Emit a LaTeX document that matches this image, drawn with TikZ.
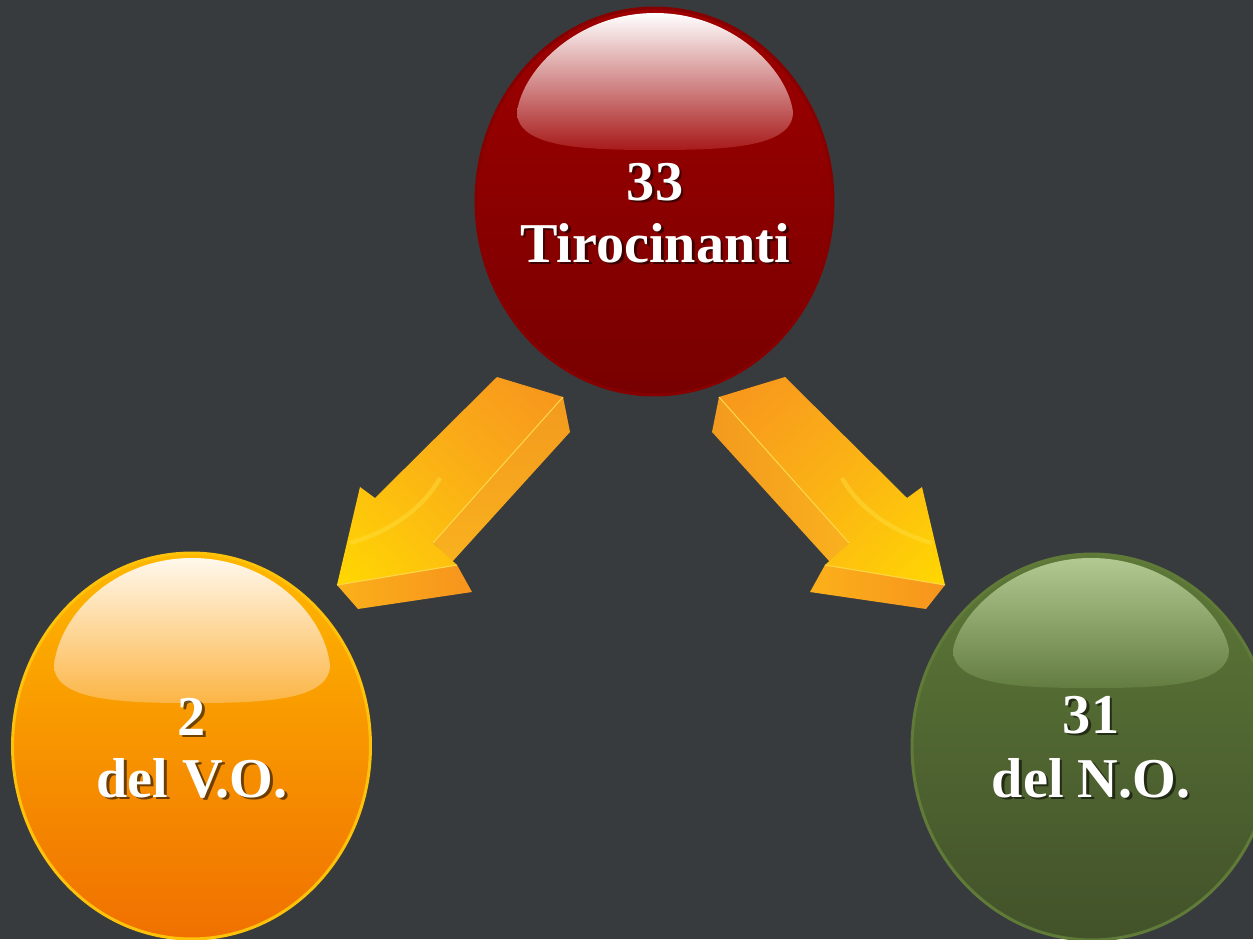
\documentclass[tikz,border=0pt]{standalone}
\usepackage{fontspec}
\setmainfont{Liberation Serif}
\usetikzlibrary{shapes.geometric,shadings}
\definecolor{bg}{HTML}{383B3D}
\definecolor{redtop}{HTML}{9E0000}
\definecolor{redbot}{HTML}{780000}
\definecolor{redrim}{HTML}{860000}
\definecolor{redhl}{HTML}{A81A1A}
\definecolor{ortop}{HTML}{FFB800}
\definecolor{orbot}{HTML}{F07000}
\definecolor{orrim}{HTML}{FFC20A}
\definecolor{orhl}{HTML}{FCB545}
\definecolor{orhltop}{HTML}{FFF8EC}
\definecolor{grtop}{HTML}{5D7838}
\definecolor{grbot}{HTML}{42522A}
\definecolor{grrim}{HTML}{5F7B37}
\definecolor{grhl}{HTML}{637C40}
\definecolor{grhltop}{HTML}{B2CA92}
\definecolor{arrY}{HTML}{FFD800}
\definecolor{arrM}{HTML}{FBB01A}
\definecolor{arrO}{HTML}{F7941D}
\definecolor{arrS}{HTML}{F39A1E}
\definecolor{arrSL}{HTML}{F9B11E}
\definecolor{arrEdge}{HTML}{FFD84A}
\definecolor{arrGlow}{HTML}{FFE040}
\newcommand\glosspath[4]{% cx, half width, top, bottom
  (#1-#2,#4-38) .. controls (#1-#2+6,#3+55) and (#1-0.55*#2,#3) .. (#1,#3)
  .. controls (#1+0.55*#2,#3) and (#1+#2-6,#3+55) .. (#1+#2,#4-38)
  .. controls (#1+#2,#4-2) and (#1+0.5*#2,#4) .. (#1,#4)
  .. controls (#1-0.5*#2,#4) and (#1-#2,#4-2) .. cycle}
\newcommand\lbltext[4]{%
  \node[shd, xshift=1.6pt, yshift=-1.6pt] (#1s) at (#2,#3) {#4};
  \node[lbl] (#1) at (#2,#3) {#4};}
\begin{document}
\begin{tikzpicture}[x=0.02cm,y=-0.02cm,
  ball/.style={shape=ellipse, inner sep=0pt, line width=0.06cm},
  lbl/.style={text=white, font=\fontsize{32}{36}\selectfont\bfseries, anchor=base, inner sep=0pt},
  shd/.style={text=black, opacity=0.55, font=\fontsize{32}{36}\selectfont\bfseries, anchor=base, inner sep=0pt},
  edge/.style={draw=arrEdge, line width=0.6pt}]
\useasboundingbox (0,0) rectangle (1253,939);
\clip (0,0) rectangle (1253,939);
\fill[bg] (0,0) rectangle (1253,939);

% balls
\node[ball, minimum width=7.14cm, minimum height=7.74cm, draw=redrim,
  top color=redtop, bottom color=redbot] (red) at (654.5,201.5) {};
\shade[top color=white, bottom color=redhl] \glosspath{655}{138}{13}{150};

\node[ball, minimum width=7.16cm, minimum height=7.72cm, draw=orrim,
  top color=ortop, bottom color=orbot] (orange) at (191.5,746) {};
\shade[top color=orhltop, bottom color=orhl] \glosspath{192}{138}{558}{703};

\node[ball, minimum width=7.2cm, minimum height=7.72cm, draw=grrim,
  top color=grtop, bottom color=grbot] (green) at (1092,747) {};
\shade[top color=grhltop, bottom color=grhl] \glosspath{1091}{138}{558}{688};

% left arrow
\coordinate (LT1) at (497,377);
\coordinate (LT2) at (563,397);
\coordinate (LT3) at (570,432);
\coordinate (LR) at (433,543);
\coordinate (LS) at (452,562);
\coordinate (LB1) at (457,565);
\coordinate (LB2) at (472,592);
\coordinate (LTip) at (337,585);
\coordinate (LTipB) at (358,609);
\coordinate (LL1) at (360,487);
\coordinate (LL2) at (375,498);
\shade[upper right=arrS, lower left=arrSL, upper left=arrS, lower right=arrSL]
  (LT2) -- (LT3) -- (LS) -- (LR) -- cycle;
\shade[left color=arrM, right color=arrO] (LB1) -- (LB2) -- (LTipB) -- (LTip) -- cycle;
\shade[upper right=arrO, lower left=arrY, upper left=arrM, lower right=arrM]
  (LT1) -- (LT2) -- (LR) -- (LB1) -- (LTip) -- (LL1) -- (LL2) -- cycle;
\draw[edge] (LT2) -- (LR);
\draw[edge] (LB1) -- (LTip);
\draw[arrGlow, opacity=0.45, line width=2.5pt] (350,543) .. controls (395,530) and (425,505) .. (440,478);

% right arrow
\coordinate (RT1) at (785,377);
\coordinate (RT2) at (719,397);
\coordinate (RT3) at (712,432);
\coordinate (RR) at (849,543);
\coordinate (RS) at (830,562);
\coordinate (RB1) at (825,565);
\coordinate (RB2) at (810,592);
\coordinate (RTip) at (945,585);
\coordinate (RTipB) at (926,609);
\coordinate (RL1) at (922,487);
\coordinate (RL2) at (907,498);
\shade[upper right=arrSL, lower left=arrS, upper left=arrS, lower right=arrSL]
  (RT2) -- (RT3) -- (RS) -- (RR) -- cycle;
\shade[left color=arrM, right color=arrO] (RB1) -- (RB2) -- (RTipB) -- (RTip) -- cycle;
\shade[upper left=arrO, lower right=arrY, upper right=arrM, lower left=arrM]
  (RT1) -- (RT2) -- (RR) -- (RB1) -- (RTip) -- (RL1) -- (RL2) -- cycle;
\draw[edge] (RT2) -- (RR);
\draw[edge] (RB1) -- (RTip);
\draw[arrGlow, opacity=0.45, line width=2.5pt] (932,543) .. controls (887,530) and (857,505) .. (842,478);

% labels
\lbltext{t33}{655}{200}{33}
\lbltext{tTir}{655}{262}{Tirocinanti}
\lbltext{t2}{192}{735}{2}
\lbltext{tVO}{192}{797}{del V.O.}
\lbltext{t31}{1091}{733}{31}
\lbltext{tNO}{1091}{797}{del N.O.}
\end{tikzpicture}
\end{document}
